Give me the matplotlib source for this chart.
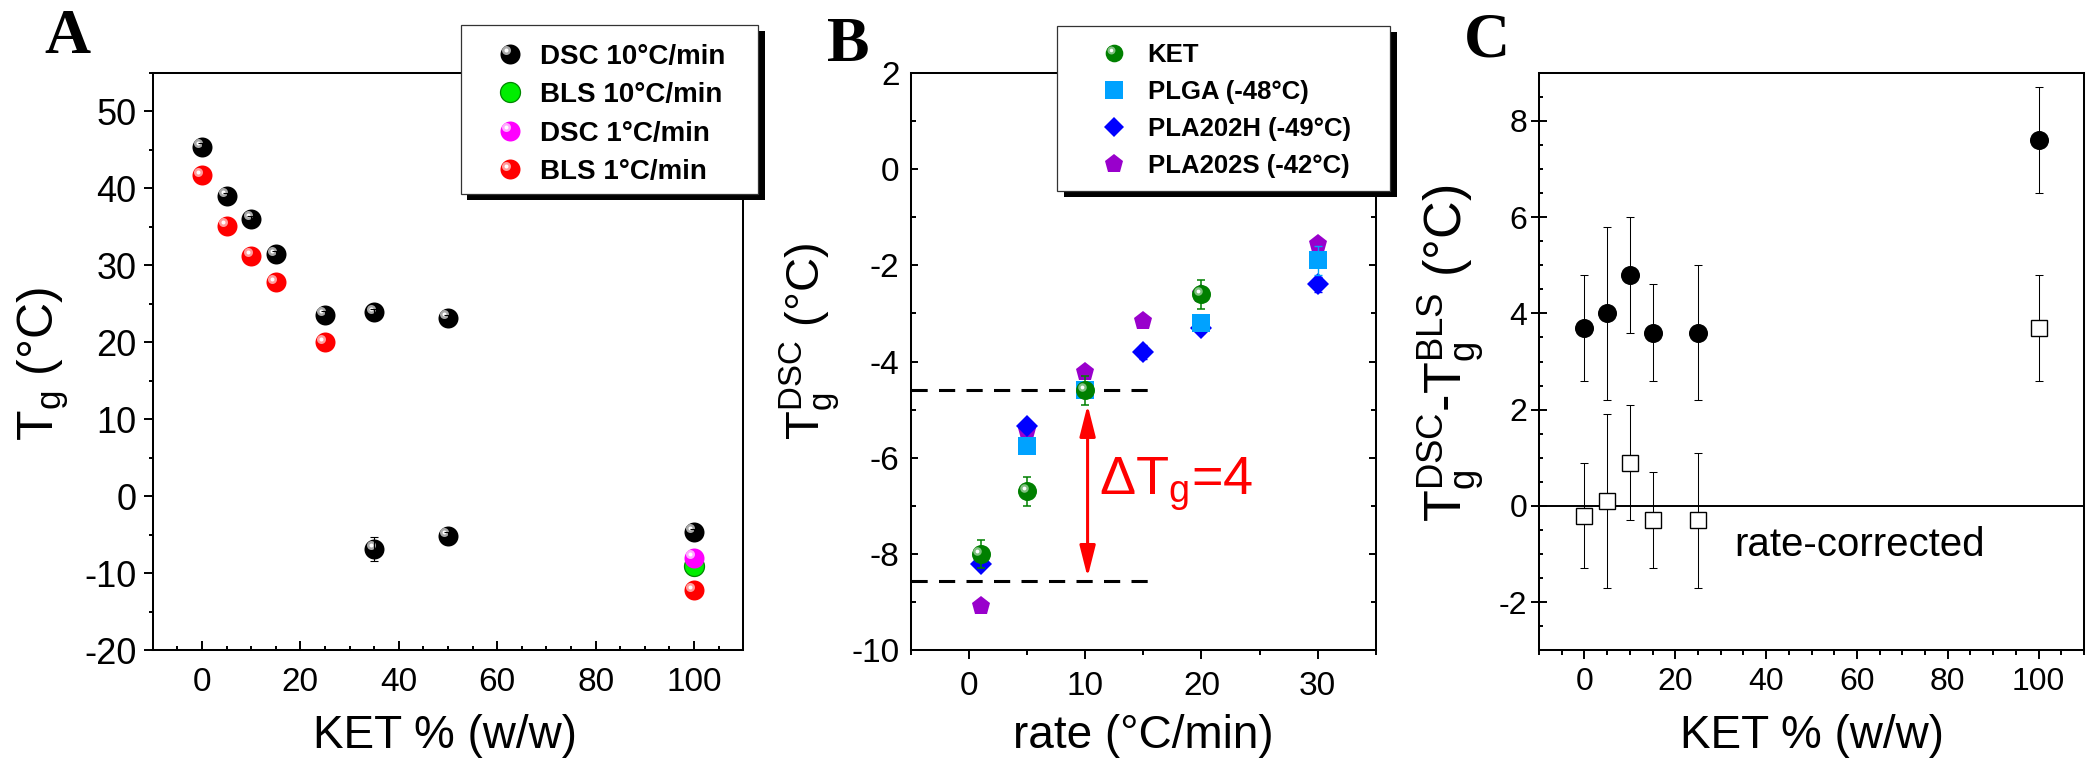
import numpy as np
import matplotlib
matplotlib.use('Agg')
import matplotlib.pyplot as plt
import matplotlib.transforms as mtransforms
from matplotlib.lines import Line2D
from matplotlib.patches import Rectangle, FancyArrowPatch
from matplotlib.legend_handler import HandlerBase
from matplotlib.ticker import MultipleLocator

plt.rcParams['font.family'] = ['Liberation Sans', 'DejaVu Sans']
plt.rcParams['mathtext.fontset'] = 'custom'
plt.rcParams['mathtext.rm'] = 'Liberation Sans'
plt.rcParams['mathtext.it'] = 'Liberation Sans:italic'
plt.rcParams['mathtext.bf'] = 'Liberation Sans:bold'
plt.rcParams['axes.unicode_minus'] = False

# ---------------- data ----------------
# Panel A : Tg vs KET content
ket_dsc10 = [0, 5, 10, 15, 25, 35, 50, 35, 50, 100]
tg_dsc10 = [45.4, 39.0, 36.0, 31.4, 23.6, 23.9, 23.2, -6.85, -5.1, -4.6]
err_dsc10 = [0.5, 0.4, 0.4, 0.4, 0.4, 0.4, 0.4, 1.5, 0.4, 0.4]
ket_bls1 = [0, 5, 10, 15, 25, 100]
tg_bls1 = [41.7, 35.1, 31.2, 27.8, 20.0, -12.2]
ket_pure = [100]
tg_bls10 = [-9.1]
tg_dsc1 = [-8.0]
labels_A = ['DSC 10°C/min', 'BLS 10°C/min', 'DSC 1°C/min', 'BLS 1°C/min']

# Panel B : Tg(DSC) vs heating rate
rate_ket = [1, 5, 10, 20]
tg_ket = [-8.0, -6.7, -4.6, -2.6]
err_ket = [0.3, 0.3, 0.3, 0.3]
rate_plga = [5, 10, 20, 30]
tg_plga = [-5.75, -4.6, -3.2, -1.9]
err_plga = [0.05, 0.05, 0.1, 0.3]
rate_h = [1, 5, 15, 20, 30]
tg_h = [-8.2, -5.35, -3.8, -3.3, -2.4]
err_h = [0.1, 0.05, 0.15, 0.1, 0.15]
rate_s = [1, 5, 10, 15, 20, 30]
tg_s = [-9.07, -5.45, -4.22, -3.15, -2.6, -1.55]
labels_B = ['KET', 'PLGA (-48°C)', 'PLA202H (-49°C)', 'PLA202S (-42°C)']
dash_levels = [-4.6, -8.55]
dash_x = [-5, 15.5]
arrow_x = 10.2
arrow_y = [-8.48, -4.9]
delta_label = 'ΔT$_\\mathregular{g}$=4'
delta_pos = (11.2, -6.77)

# Panel C : Tg(DSC) - Tg(BLS)
ket_c = [0, 5, 10, 15, 25, 100]
diff_raw = [3.7, 4.0, 4.8, 3.6, 3.6, 7.6]
err_raw = [1.1, 1.8, 1.2, 1.0, 1.4, 1.1]
diff_corr = [-0.2, 0.1, 0.9, -0.3, -0.3, 3.7]
err_corr = [1.1, 1.8, 1.2, 1.0, 1.4, 1.1]
corr_label_pos = (33, -1.04)

# ---------------- figure ----------------
W, H, DPI = 2086, 762, 100
PT = 72.0 / DPI  # points per pixel
fig = plt.figure(figsize=(W / DPI, H / DPI), dpi=DPI)
TOP, BOT = 72.7, 650.3
AH = BOT - TOP


def add_axes(left, right):
    return fig.add_axes([left / W, 1 - BOT / H, (right - left) / W, AH / H])


def px_rect(x0, y0, x1, y1, **kw):
    return Rectangle((x0 / W, 1 - y1 / H), (x1 - x0) / W, (y1 - y0) / H,
                     transform=fig.transFigure, **kw)


axA = add_axes(152.7, 743.3)
axB = add_axes(911.0, 1375.7)
axC = add_axes(1539.0, 2084.0)
for ax in (axA, axB, axC):
    for s in ax.spines.values():
        s.set_linewidth(1.45)


def spheres(ax, x, y, color, hl, d_px, z, edge=None, shine=True):
    ms = d_px * PT
    ax.plot(x, y, ls='none', marker='o', ms=ms, mfc=color,
            mec=edge if edge else color, mew=0.9 if edge else 0, zorder=z)
    if shine:
        off = mtransforms.ScaledTranslation(-0.18 * d_px / DPI, 0.18 * d_px / DPI,
                                            fig.dpi_scale_trans)
        tr = ax.transData + off
        ax.plot(x, y, ls='none', marker='o', ms=ms * 0.45, mfc=hl, mec='none',
                mew=0, zorder=z + 0.01, transform=tr)
        ax.plot(x, y, ls='none', marker='o', ms=ms * 0.2, mfc='white', mec='none',
                mew=0, zorder=z + 0.02, transform=tr)


class HandlerSphere(HandlerBase):
    def __init__(self, color, hl, size_pt, edge=None, shine=True):
        super().__init__()
        self.color, self.hl, self.size = color, hl, size_pt
        self.edge, self.shine = edge, shine

    def create_artists(self, legend, orig_handle, xdescent, ydescent, width,
                       height, fontsize, trans):
        cx = width / 2 - xdescent
        cy = height / 2 - ydescent
        arts = [Line2D([cx], [cy], ls='none', marker='o', ms=self.size,
                       mfc=self.color, mec=self.edge or self.color,
                       mew=0.9 if self.edge else 0)]
        if self.shine:
            d = 0.18 * self.size
            arts.append(Line2D([cx - d], [cy + d], ls='none', marker='o',
                               ms=self.size * 0.45, mfc=self.hl, mec='none', mew=0))
            arts.append(Line2D([cx - d], [cy + d], ls='none', marker='o',
                               ms=self.size * 0.2, mfc='white', mec='none', mew=0))
        for a in arts:
            a.set_transform(trans)
        return arts


# ---------------- Panel A ----------------
axA.errorbar(ket_dsc10, tg_dsc10, yerr=err_dsc10, fmt='none', ecolor='black',
             elinewidth=0.8, capsize=3, capthick=0.8, zorder=3.5)
spheres(axA, ket_dsc10, tg_dsc10, 'black', '#a8a8a8', 20, 3)
spheres(axA, ket_pure, tg_bls10, '#00ee00', None, 20, 2, edge='#008800', shine=False)
spheres(axA, ket_pure, tg_dsc1, '#ff00ff', '#ffaaff', 20, 2.5)
spheres(axA, ket_bls1, tg_bls1, '#ff0000', '#ff9c9c', 20, 2.6)
axA.set_xlim(-10, 110)
axA.set_ylim(-20, 55)
axA.xaxis.set_major_locator(MultipleLocator(20))
axA.xaxis.set_minor_locator(MultipleLocator(5))
axA.yaxis.set_major_locator(MultipleLocator(10))
axA.yaxis.set_minor_locator(MultipleLocator(5))
axA.tick_params(axis='x', which='major', direction='in', length=6.3, width=1.4, pad=12, labelsize=24)
axA.tick_params(axis='x', which='minor', direction='in', length=3.1, width=1.4)
axA.tick_params(axis='y', which='major', direction='out', length=6.7, width=1.4, pad=5, labelsize=26)
axA.tick_params(axis='y', which='minor', direction='out', length=3.1, width=1.4)
axA.set_xlabel('KET % (w/w)', fontsize=33, va='baseline')
axA.xaxis.set_label_coords((445 - 152.7) / 590.6, -(747.5 - BOT) / AH)
axA.set_ylabel('T$_\\mathregular{g}$ (°C)', fontsize=36, va='center', ha='center')
axA.yaxis.set_label_coords((43 - 152.7) / 590.6, (BOT - 364) / AH)

# ---------------- Panel B ----------------
for lev in dash_levels:
    axB.plot(dash_x, [lev, lev], color='black', lw=2.2, ls=(0, (5.3, 3.7)), zorder=1)
axB.errorbar(rate_h, tg_h, yerr=err_h, fmt='none', ecolor='#0000ff', elinewidth=1,
             capsize=3, capthick=1, zorder=2)
axB.plot(rate_s, tg_s, ls='none', marker='p', ms=13.9, mfc='#9900cc', mec='#9900cc', mew=0, zorder=1.5)
axB.plot(rate_h, tg_h, ls='none', marker='D', ms=10.7, mfc='#0000ff', mec='#0000ff', mew=0, zorder=2.1)
axB.errorbar(rate_plga, tg_plga, yerr=err_plga, fmt='none', ecolor='#00a2ff', elinewidth=1,
             capsize=3, capthick=1, zorder=2.2)
axB.plot(rate_plga, tg_plga, ls='none', marker='s', ms=13.5, mfc='#00a2ff', mec='#00a2ff', mew=0, zorder=2.3)
axB.errorbar(rate_ket, tg_ket, yerr=err_ket, fmt='none', ecolor='#008000', elinewidth=1.1,
             capsize=3.2, capthick=1.1, zorder=2.9)
spheres(axB, rate_ket, tg_ket, '#008000', '#80c080', 19, 3)
arr = FancyArrowPatch((arrow_x, arrow_y[0]), (arrow_x, arrow_y[1]),
                      arrowstyle='<|-|>,head_length=19,head_width=4.8', mutation_scale=1,
                      color='red', lw=2.2, shrinkA=0, shrinkB=0, zorder=4)
axB.add_patch(arr)
axB.text(delta_pos[0], delta_pos[1], delta_label, color='red', fontsize=39, va='baseline')
axB.set_xlim(-5, 35)
axB.set_ylim(-10, 2)
axB.xaxis.set_major_locator(MultipleLocator(10))
axB.xaxis.set_minor_locator(MultipleLocator(5))
axB.yaxis.set_major_locator(MultipleLocator(2))
axB.yaxis.set_minor_locator(MultipleLocator(1))
axB.tick_params(axis='x', which='major', direction='out', length=6.5, width=1.4, pad=8.5, labelsize=24)
axB.tick_params(axis='x', which='minor', direction='out', length=3.4, width=1.4)
axB.tick_params(axis='y', which='major', direction='in', length=5.2, width=1.4, pad=8.2,
                labelsize=24, right=True)
axB.tick_params(axis='y', which='minor', direction='in', length=3.3, width=1.4, right=True)
axB.set_xlabel('rate (°C/min)', fontsize=33, va='baseline')
axB.xaxis.set_label_coords(0.5, -(748.0 - BOT) / AH)
axB.set_ylabel('T$_\\mathregular{g}^\\mathregular{DSC}$ (°C)', fontsize=34, va='center', ha='center')
axB.yaxis.set_label_coords((810 - 911) / 464.7, (BOT - 341) / AH)

# ---------------- Panel C ----------------
axC.axhline(0, color='black', lw=1.4, zorder=1)
axC.errorbar(ket_c, diff_raw, yerr=err_raw, fmt='none', ecolor='black', elinewidth=0.75,
             capsize=3.2, capthick=0.75, zorder=2)
axC.errorbar(ket_c, diff_corr, yerr=err_corr, fmt='none', ecolor='black', elinewidth=0.75,
             capsize=3.2, capthick=0.75, zorder=2)
axC.plot(ket_c, diff_raw, ls='none', marker='o', ms=13.7, mfc='black', mec='black', mew=0, zorder=3)
axC.plot(ket_c, diff_corr, ls='none', marker='s', ms=11.5, mfc='white', mec='black', mew=1.0, zorder=3)
axC.text(corr_label_pos[0], corr_label_pos[1], 'rate-corrected', fontsize=29, va='baseline')
axC.set_xlim(-10, 110)
axC.set_ylim(-3, 9)
axC.xaxis.set_major_locator(MultipleLocator(20))
axC.xaxis.set_minor_locator(MultipleLocator(5))
axC.yaxis.set_major_locator(MultipleLocator(2))
axC.yaxis.set_minor_locator(MultipleLocator(0.5))
axC.tick_params(axis='x', which='major', direction='out', length=6.5, width=1.4, pad=5.8, labelsize=23)
axC.tick_params(axis='x', which='minor', direction='out', length=3.4, width=1.4)
axC.tick_params(axis='y', which='major', direction='inout', length=12, width=1.4, pad=2.4, labelsize=23)
axC.tick_params(axis='y', which='minor', direction='in', length=3.1, width=1.4)
axC.set_xlabel('KET % (w/w)', fontsize=33, va='baseline')
axC.xaxis.set_label_coords(0.5, -(747.5 - BOT) / AH)
axC.set_ylabel('T$_\\mathregular{g}^\\mathregular{DSC}$-T$_\\mathregular{g}^\\mathregular{BLS}$ (°C)',
               fontsize=37.5, va='center', ha='center')
axC.yaxis.set_label_coords((1451 - 1539) / 545.0, (BOT - 353) / AH)

# ---------------- panel letters ----------------
for letter, cx, base in (('A', 67, 53), ('B', 848.5, 60.7), ('C', 1486.7, 56.5)):
    fig.text(cx / W, 1 - base / H, letter, ha='center', va='baseline', fontsize=46,
             family='Liberation Serif', weight='bold')

# ---------------- legends (frame + shadow drawn as boxes) ----------------
for (x0, y0, x1, y1) in ((460.7, 25, 758, 194), (1057.3, 26, 1390, 190.7)):
    fig.add_artist(px_rect(x0 + 6.7, y0 + 6, x1 + 6.7, y1 + 6, facecolor='black',
                           edgecolor='none', zorder=4.8))
    fig.add_artist(px_rect(x0, y0, x1, y1, facecolor='white', edgecolor='#333333',
                           linewidth=0.9, zorder=4.9))

hA = [Line2D([], []) for _ in labels_A]
hmapA = {hA[0]: HandlerSphere('black', '#a8a8a8', 14.4),
         hA[1]: HandlerSphere('#00ee00', None, 14.4, edge='#008800', shine=False),
         hA[2]: HandlerSphere('#ff00ff', '#ffaaff', 14.4),
         hA[3]: HandlerSphere('#ff0000', '#ff9c9c', 14.4)}
legA = fig.legend(hA, labels_A, handler_map=hmapA, loc='upper left',
                  bbox_to_anchor=(460.7 / W, 1 - 32.6 / H),
                  bbox_transform=fig.transFigure, borderaxespad=0,
                  prop={'weight': 'bold', 'size': 20}, handlelength=2.75,
                  handletextpad=-0.29, borderpad=0.4, labelspacing=0.45,
                  frameon=False)
legA.set_zorder(5)

hB = [Line2D([], []),
      Line2D([], [], ls='none', marker='s', ms=12.7, mfc='#00a2ff', mec='#00a2ff', mew=0),
      Line2D([], [], ls='none', marker='D', ms=10.2, mfc='#0000ff', mec='#0000ff', mew=0),
      Line2D([], [], ls='none', marker='p', ms=13.9, mfc='#9900cc', mec='#9900cc', mew=0)]
hmapB = {hB[0]: HandlerSphere('#008000', '#80c080', 12.7)}
legB = fig.legend(hB, labels_B, handler_map=hmapB, loc='upper left', numpoints=1,
                  bbox_to_anchor=(1057.3 / W, 1 - 33 / H),
                  bbox_transform=fig.transFigure, borderaxespad=0,
                  prop={'weight': 'bold', 'size': 18.5}, handlelength=3.6,
                  handletextpad=-0.48, borderpad=0.4, labelspacing=0.5,
                  frameon=False)
legB.set_zorder(5)

fig.savefig('out.png', dpi=DPI)
